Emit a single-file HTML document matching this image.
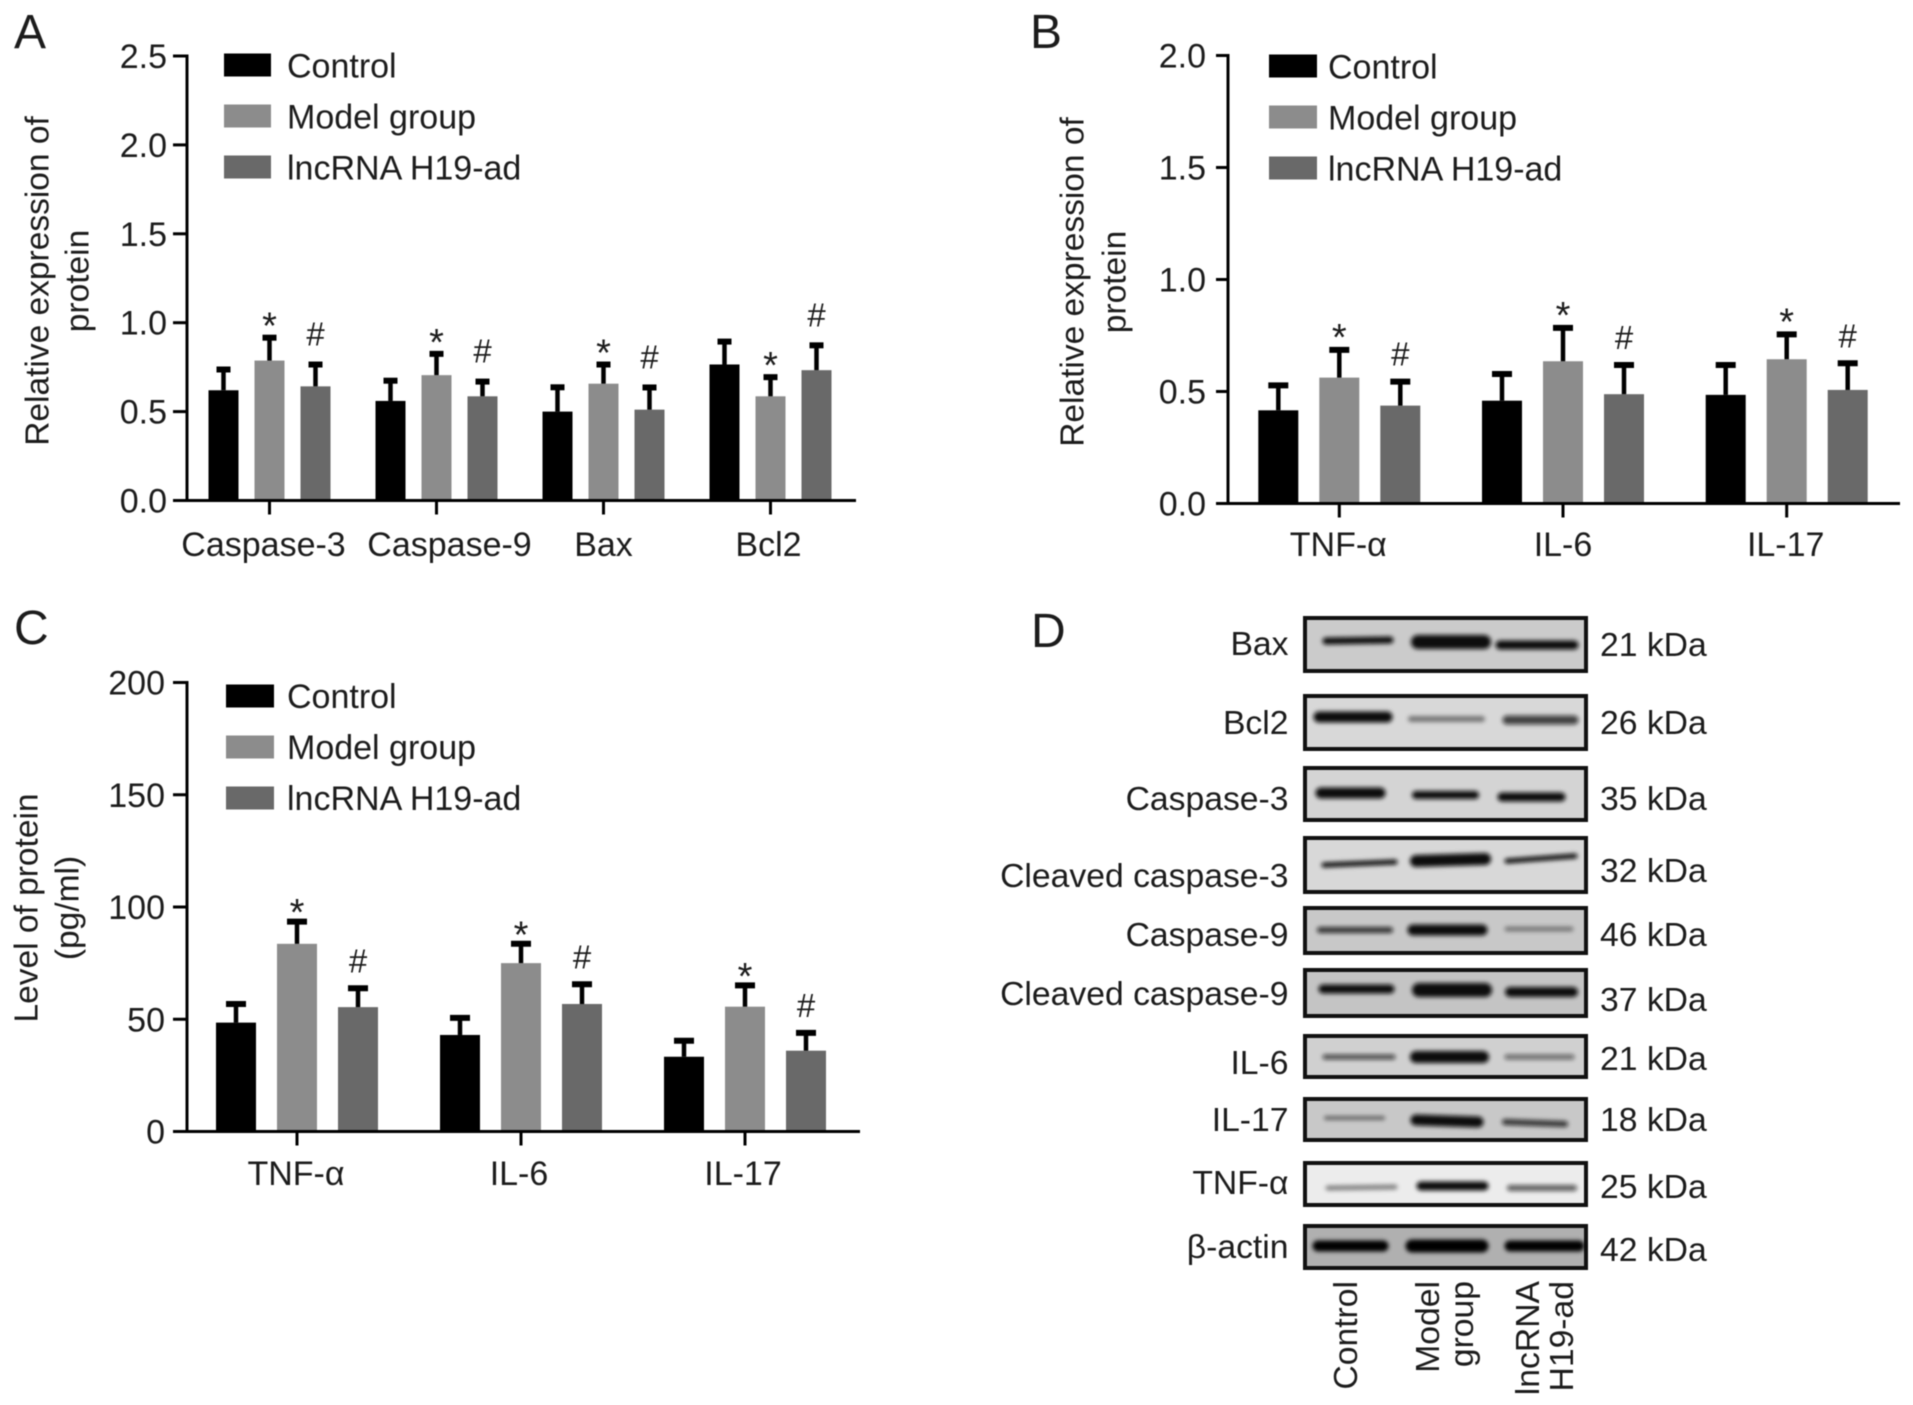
<!DOCTYPE html>
<html lang="en">
<head>
<meta charset="utf-8">
<title>Protein expression panels</title>
<style>
  html, body { margin: 0; padding: 0; background: #fff; }
  #figure { display: block; width: 1913px; height: 1405px; filter: blur(0.55px); }
  text { font-family: "Liberation Sans", sans-serif; fill: #1c1c1c; }
</style>
</head>
<body>
<svg id="figure" xmlns="http://www.w3.org/2000/svg" width="1913" height="1405" viewBox="0 0 1913 1405">
  <defs>
    <filter id="band-blur" filterUnits="userSpaceOnUse" x="1290" y="600" width="320" height="690"><feGaussianBlur stdDeviation="2.2"></feGaussianBlur></filter>
  </defs>
  <rect width="1913" height="1405" fill="#fff"></rect>

  <text x="14" y="48" font-size="48">A</text>
  <text x="1030" y="48" font-size="48">B</text>
  <text x="14" y="644" font-size="48">C</text>
  <text x="1031" y="647" font-size="48">D</text>

  <g id="chart-a"></g>
  <g id="chart-b"></g>
  <g id="chart-c"></g>

  <g id="western-blot" font-size="33.7">
    <g>
      <rect x="1305" y="618" width="281" height="53" fill="#cbcbcb" stroke="#111" stroke-width="4"></rect>
      <g filter="url(#band-blur)" stroke="#0c0c0c" stroke-linecap="round">
        <line x1="1326" x2="1390" y1="641" y2="640" stroke-width="7"></line>
        <line x1="1418" x2="1484" y1="642" y2="642" stroke-width="14"></line>
        <line x1="1500" x2="1574" y1="645" y2="645" stroke-width="9"></line>
      </g>
      <text x="1288.5" y="644" text-anchor="end" dominant-baseline="central">Bax</text>
      <text x="1600" y="645" dominant-baseline="central">21 kDa</text>
    </g>
    <g>
      <rect x="1305" y="696" width="281" height="53" fill="#d8d8d8" stroke="#111" stroke-width="4"></rect>
      <g filter="url(#band-blur)" stroke="#0c0c0c" stroke-linecap="round">
        <line x1="1319" x2="1387" y1="717" y2="717" stroke-width="11"></line>
        <line x1="1411" x2="1482" y1="719" y2="719" stroke-width="6" stroke-opacity=".45"></line>
        <line x1="1507" x2="1574" y1="720" y2="720" stroke-width="9" stroke-opacity=".75"></line>
      </g>
      <text x="1288.5" y="723" text-anchor="end" dominant-baseline="central">Bcl2</text>
      <text x="1600" y="723" dominant-baseline="central">26 kDa</text>
    </g>
    <g>
      <rect x="1305" y="768" width="281" height="52" fill="#d4d4d4" stroke="#111" stroke-width="4"></rect>
      <g filter="url(#band-blur)" stroke="#0c0c0c" stroke-linecap="round">
        <line x1="1321" x2="1380" y1="793" y2="793" stroke-width="11"></line>
        <line x1="1416" x2="1475" y1="795" y2="795" stroke-width="8"></line>
        <line x1="1502" x2="1561" y1="797" y2="797" stroke-width="9"></line>
      </g>
      <text x="1288.5" y="799" text-anchor="end" dominant-baseline="central">Caspase-3</text>
      <text x="1600" y="799" dominant-baseline="central">35 kDa</text>
    </g>
    <g>
      <rect x="1305" y="838" width="281" height="54" fill="#d8d8d8" stroke="#111" stroke-width="4"></rect>
      <g filter="url(#band-blur)" stroke="#0c0c0c" stroke-linecap="round">
        <line x1="1324" x2="1395" y1="865" y2="862" stroke-width="5"></line>
        <line x1="1416" x2="1485" y1="861" y2="859" stroke-width="12"></line>
        <line x1="1507" x2="1575" y1="861" y2="856" stroke-width="5"></line>
      </g>
      <text x="1288.5" y="876" text-anchor="end" dominant-baseline="central">Cleaved caspase-3</text>
      <text x="1600" y="871" dominant-baseline="central">32 kDa</text>
    </g>
    <g>
      <rect x="1305" y="908" width="281" height="45" fill="#c8c8c8" stroke="#111" stroke-width="4"></rect>
      <g filter="url(#band-blur)" stroke="#0c0c0c" stroke-linecap="round">
        <line x1="1320" x2="1390" y1="930" y2="930" stroke-width="6" stroke-opacity=".8"></line>
        <line x1="1413" x2="1482" y1="930" y2="930" stroke-width="11"></line>
        <line x1="1507" x2="1571" y1="929" y2="929" stroke-width="5" stroke-opacity=".4"></line>
      </g>
      <text x="1288.5" y="935" text-anchor="end" dominant-baseline="central">Caspase-9</text>
      <text x="1600" y="935" dominant-baseline="central">46 kDa</text>
    </g>
    <g>
      <rect x="1305" y="970" width="281" height="46" fill="#c4c4c4" stroke="#111" stroke-width="4"></rect>
      <g filter="url(#band-blur)" stroke="#0c0c0c" stroke-linecap="round">
        <line x1="1323" x2="1390" y1="989" y2="989" stroke-width="9"></line>
        <line x1="1419" x2="1485" y1="990" y2="990" stroke-width="14"></line>
        <line x1="1510" x2="1573" y1="992" y2="992" stroke-width="10"></line>
      </g>
      <text x="1288.5" y="994" text-anchor="end" dominant-baseline="central">Cleaved caspase-9</text>
      <text x="1600" y="1000" dominant-baseline="central">37 kDa</text>
    </g>
    <g>
      <rect x="1305" y="1036" width="281" height="41" fill="#d0d0d0" stroke="#111" stroke-width="4"></rect>
      <g filter="url(#band-blur)" stroke="#0c0c0c" stroke-linecap="round">
        <line x1="1325" x2="1393" y1="1057" y2="1057" stroke-width="5" stroke-opacity=".7"></line>
        <line x1="1416" x2="1483" y1="1057" y2="1057" stroke-width="12"></line>
        <line x1="1507" x2="1572" y1="1057" y2="1057" stroke-width="5" stroke-opacity=".55"></line>
      </g>
      <text x="1288.5" y="1063" text-anchor="end" dominant-baseline="central">IL-6</text>
      <text x="1600" y="1059" dominant-baseline="central">21 kDa</text>
    </g>
    <g>
      <rect x="1305" y="1099" width="281" height="41" fill="#c8c8c8" stroke="#111" stroke-width="4"></rect>
      <g filter="url(#band-blur)" stroke="#0c0c0c" stroke-linecap="round">
        <line x1="1326" x2="1383" y1="1118" y2="1118" stroke-width="4" stroke-opacity=".5"></line>
        <line x1="1416" x2="1478" y1="1120" y2="1122" stroke-width="11"></line>
        <line x1="1505" x2="1565" y1="1122" y2="1124" stroke-width="6" stroke-opacity=".8"></line>
      </g>
      <text x="1288.5" y="1120" text-anchor="end" dominant-baseline="central">IL-17</text>
      <text x="1600" y="1120" dominant-baseline="central">18 kDa</text>
    </g>
    <g>
      <rect x="1305" y="1163" width="281" height="42" fill="#ececec" stroke="#111" stroke-width="4"></rect>
      <g filter="url(#band-blur)" stroke="#0c0c0c" stroke-linecap="round">
        <line x1="1328" x2="1395" y1="1188" y2="1187" stroke-width="5" stroke-opacity=".45"></line>
        <line x1="1421" x2="1484" y1="1186" y2="1186" stroke-width="9"></line>
        <line x1="1510" x2="1574" y1="1188" y2="1188" stroke-width="6" stroke-opacity=".65"></line>
      </g>
      <text x="1288.5" y="1183" text-anchor="end" dominant-baseline="central">TNF-α</text>
      <text x="1600" y="1187" dominant-baseline="central">25 kDa</text>
    </g>
    <g>
      <rect x="1305" y="1226" width="281" height="42" fill="#b0b0b0" stroke="#111" stroke-width="4"></rect>
      <g filter="url(#band-blur)" stroke="#050505" stroke-linecap="round">
        <line x1="1318" x2="1383" y1="1246" y2="1246" stroke-width="11"></line>
        <line x1="1412" x2="1482" y1="1246" y2="1246" stroke-width="13"></line>
        <line x1="1510" x2="1579" y1="1246" y2="1246" stroke-width="11"></line>
      </g>
      <text x="1288.5" y="1247" text-anchor="end" dominant-baseline="central">β-actin</text>
      <text x="1600" y="1250" dominant-baseline="central">42 kDa</text>
    </g>
    <text transform="rotate(-90 1346 1281)" x="1346" y="1281" text-anchor="end" dominant-baseline="central">Control</text>
    <text transform="rotate(-90 1428 1281)" x="1428" y="1281" text-anchor="end" dominant-baseline="central">Model</text>
    <text transform="rotate(-90 1462 1281)" x="1462" y="1281" text-anchor="end" dominant-baseline="central">group</text>
    <text transform="rotate(-90 1528 1281)" x="1528" y="1281" text-anchor="end" dominant-baseline="central">lncRNA</text>
    <text transform="rotate(-90 1562 1281)" x="1562" y="1281" text-anchor="end" dominant-baseline="central">H19-ad</text>
  </g>
</svg>

<script>
const seriesNames = ['Control', 'Model group', 'lncRNA H19-ad'];
const seriesMarks = ['', '*', '#'];

const categoriesA = ['Caspase-3', 'Caspase-9', 'Bax', 'Bcl2'];
const controlA = [0.62, 0.56, 0.50, 0.765];
const modelA = [0.787, 0.705, 0.657, 0.586];
const lncA = [0.642, 0.586, 0.511, 0.733];
const controlErrA = [0.128, 0.125, 0.148, 0.14];
const modelErrA = [0.14, 0.131, 0.119, 0.119];
const lncErrA = [0.134, 0.094, 0.136, 0.151];
const tickLabelsA = ['0.0', '0.5', '1.0', '1.5', '2.0', '2.5'];

const categoriesB = ['TNF-α', 'IL-6', 'IL-17'];
const controlB = [0.416, 0.459, 0.485];
const modelB = [0.562, 0.635, 0.644];
const lncB = [0.437, 0.488, 0.507];
const controlErrB = [0.12, 0.128, 0.142];
const modelErrB = [0.133, 0.158, 0.12];
const lncErrB = [0.116, 0.139, 0.128];
const tickLabelsB = ['0.0', '0.5', '1.0', '1.5', '2.0'];

const categoriesC = ['TNF-α', 'IL-6', 'IL-17'];
const controlC = [48.5, 43, 33.3];
const modelC = [83.6, 75, 55.6];
const lncC = [55.4, 56.8, 36];
const controlErrC = [9.2, 8.5, 8];
const modelErrC = [10.8, 9.5, 10.4];
const lncErrC = [9.3, 9.7, 8.8];
const tickLabelsC = ['0', '50', '100', '150', '200'];

const seriesFill = ['#000000', '#8c8c8c', '#696969'];
const NS = 'http://www.w3.org/2000/svg';

function make(tag, attrs, parent, content) {
  const el = document.createElementNS(NS, tag);
  for (const k in attrs) el.setAttribute(k, attrs[k]);
  if (content !== undefined) el.textContent = content;
  parent.appendChild(el);
  return el;
}

function drawChart(cfg) {
  const root = document.getElementById(cfg.id);
  const maxV = parseFloat(cfg.tickLabels[cfg.tickLabels.length - 1]);
  const yScale = v => cfg.y0 - (v / maxV) * (cfg.y0 - cfg.yTop);
  const xScale = (g, s) => cfg.x0 + cfg.step * g + (s - 1) * cfg.offset;

  cfg.values.forEach((vals, s) => {
    vals.forEach((v, g) => {
      const cx = xScale(g, s);
      const top = yScale(v);
      const errTop = yScale(v + cfg.errors[s][g]);
      const bar = make('rect', { x: cx - cfg.barW / 2, y: top, width: cfg.barW, height: cfg.y0 - top, fill: seriesFill[s] }, root);
      
      
      const stem = make('line', { x1: cx, x2: cx, y1: top, y2: errTop, stroke: '#000', 'stroke-width': 4.5 }, root);
      
      
      const cap = make('line', { x1: cx - cfg.capW / 2, x2: cx + cfg.capW / 2, y1: errTop + 2, y2: errTop + 2, stroke: '#000', 'stroke-width': 6 }, root);
      
      
      if (seriesMarks[s]) {
        const dy = s === 1 ? cfg.starGap : cfg.hashGap;
        const size = s === 1 ? 38 : 33;
        const mark = make('text', { x: cx, y: errTop - dy, 'text-anchor': 'middle', 'font-size': size }, root, seriesMarks[s]);
        
        
      }
    });
  });

  const yAxis = make('line', { x1: cfg.axisX, x2: cfg.axisX, y1: cfg.yTop - 1.5, y2: cfg.y0 + 1.5, stroke: '#000', 'stroke-width': 3 }, root);
  
  
  const xAxis = make('line', { x1: cfg.axisStart, x2: cfg.axisEnd, y1: cfg.y0, y2: cfg.y0, stroke: '#000', 'stroke-width': 3 }, root);
  
  

  cfg.tickLabels.forEach(label => {
    const y = yScale(parseFloat(label));
    const tick = make('line', { x1: cfg.axisStart, x2: cfg.axisX, y1: y, y2: y, stroke: '#000', 'stroke-width': 3 }, root);
    
    
    const txt = make('text', { x: cfg.tickTextX, y: y + 1, 'text-anchor': 'end', 'dominant-baseline': 'central', 'font-size': 34 }, root, label);
    
    
  });

  cfg.categories.forEach((cat, g) => {
    const cx = xScale(g, 1);
    const tick = make('line', { x1: cx, x2: cx, y1: cfg.y0, y2: cfg.y0 + 14, stroke: '#000', 'stroke-width': 3 }, root);
    
    
    const txt = make('text', { x: cx + cfg.labelNudge[g], y: cfg.catY, 'text-anchor': 'middle', 'font-size': 34 }, root, cat);
    
    
  });

  cfg.yTitle.forEach((line, i) => {
    const tx = cfg.titleX[i];
    const txt = make('text', { x: tx, y: cfg.titleY, transform: 'rotate(-90 ' + tx + ' ' + cfg.titleY + ')', 'text-anchor': 'middle', 'dominant-baseline': 'central', 'font-size': 33.5 }, root, line);
    
    
  });

  seriesNames.forEach((name, s) => {
    const cy = cfg.legendY + s * cfg.legendGap;
    const swatch = make('rect', { x: cfg.legendX, y: cy - 11.5, width: cfg.legendW, height: 23, fill: seriesFill[s] }, root);
    
    
    const txt = make('text', { x: cfg.legendTextX, y: cy + cfg.legendTextDy, 'dominant-baseline': 'central', 'font-size': 34 }, root, name);
    
    
  });
}

drawChart({
  id: 'chart-a', categories: categoriesA, tickLabels: tickLabelsA,
  values: [controlA, modelA, lncA], errors: [controlErrA, modelErrA, lncErrA],
  yTop: 56, y0: 500.5, axisX: 187, axisStart: 173, axisEnd: 856, x0: 269.5, step: 167, offset: 46, barW: 30, capW: 14,
  tickTextX: 167, catY: 556, labelNudge: [-6, 13, 0, -2],
  yTitle: ['Relative expression of', 'protein'], titleX: [38, 78], titleY: 281,
  legendX: 224, legendW: 47, legendY: 65, legendGap: 51, legendTextX: 287, legendTextDy: 1.5,
  starGap: -3, hashGap: 17
});
drawChart({
  id: 'chart-b', categories: categoriesB, tickLabels: tickLabelsB,
  values: [controlB, modelB, lncB], errors: [controlErrB, modelErrB, lncErrB],
  yTop: 55.5, y0: 503.5, axisX: 1228, axisStart: 1216, axisEnd: 1900, x0: 1339.3, step: 223.7, offset: 61, barW: 40, capW: 20,
  tickTextX: 1206, catY: 556, labelNudge: [-1, 0, -1],
  yTitle: ['Relative expression of', 'protein'], titleX: [1073, 1115], titleY: 282,
  legendX: 1269, legendW: 48, legendY: 66, legendGap: 51, legendTextX: 1328, legendTextDy: 1.5,
  starGap: -2, hashGap: 14
});
drawChart({
  id: 'chart-c', categories: categoriesC, tickLabels: tickLabelsC,
  values: [controlC, modelC, lncC], errors: [controlErrC, modelErrC, lncErrC],
  yTop: 682.5, y0: 1131.5, axisX: 187, axisStart: 173, axisEnd: 860, x0: 297, step: 224, offset: 61, barW: 40, capW: 20,
  tickTextX: 165, catY: 1185, labelNudge: [-1, -2, -2],
  yTitle: ['Level of protein', '(pg/ml)'], titleX: [27, 68], titleY: 908,
  legendX: 226, legendW: 48, legendY: 696, legendGap: 51, legendTextX: 287, legendTextDy: 1,
  starGap: -5.6, hashGap: 13.7
});
</script>
</body>
</html>
